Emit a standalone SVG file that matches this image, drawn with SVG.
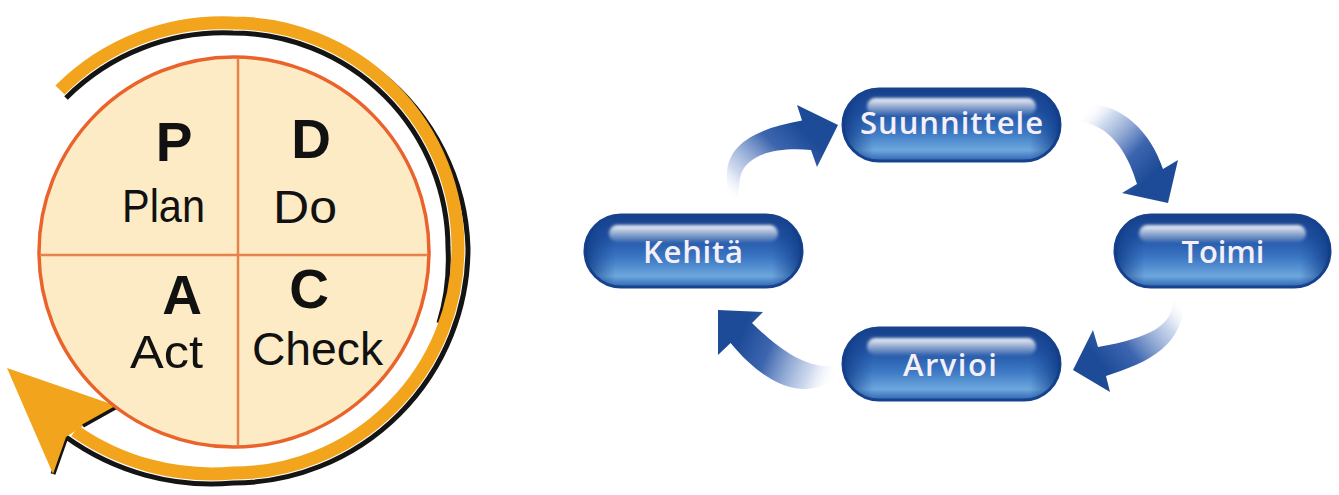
<svg xmlns="http://www.w3.org/2000/svg" width="1339" height="495" viewBox="0 0 1339 495">
<style>
.band{fill:none;stroke:#F2A51C;stroke-width:13}
.blk{fill:none;stroke:#141414;stroke-width:5}
.big{font-family:"Liberation Sans",Arial,sans-serif;font-weight:bold;font-size:55px;fill:#111;text-anchor:middle}
.word{font-family:"Liberation Sans",Arial,sans-serif;font-size:46px;fill:#111}
.pb{fill:url(#pillBody);stroke:#17428c;stroke-width:3}
.pe{fill:url(#pillEdge)}
.pg{fill:url(#pillGloss);filter:url(#soft)}
.pt{font-family:"Open Sans","Liberation Sans",sans-serif;font-weight:600;font-size:31px;fill:#f5eff7;text-anchor:middle}
</style>
<defs>
<filter id="soft" x="-10%" y="-50%" width="120%" height="200%"><feGaussianBlur stdDeviation="1.8"/></filter>
<linearGradient id="pillBody" x1="0" y1="0" x2="0" y2="1">
<stop offset="0" stop-color="#163f8a"/>
<stop offset="0.3" stop-color="#1f52a3"/>
<stop offset="0.6" stop-color="#3c78c4"/>
<stop offset="0.85" stop-color="#6da7dd"/>
<stop offset="1" stop-color="#2d63b0"/>
</linearGradient>
<linearGradient id="pillEdge" x1="0" y1="0" x2="1" y2="0">
<stop offset="0" stop-color="#0f3a85" stop-opacity="0.9"/>
<stop offset="0.14" stop-color="#1a4a98" stop-opacity="0"/>
<stop offset="0.86" stop-color="#1a4a98" stop-opacity="0"/>
<stop offset="1" stop-color="#0f3a85" stop-opacity="0.9"/>
</linearGradient>
<linearGradient id="pillGloss" x1="0" y1="0" x2="0" y2="1">
<stop offset="0" stop-color="#ffffff" stop-opacity="0.95"/>
<stop offset="1" stop-color="#ffffff" stop-opacity="0.1"/>
</linearGradient>
<linearGradient id="a1" gradientUnits="userSpaceOnUse" x1="730" y1="200" x2="800" y2="128">
<stop offset="0" stop-color="#ffffff" stop-opacity="0"/>
<stop offset="0.25" stop-color="#b8c9e6" stop-opacity="0.7"/>
<stop offset="0.7" stop-color="#3d66b0"/>
<stop offset="1" stop-color="#1e4b97"/>
</linearGradient>
<linearGradient id="a2" gradientUnits="userSpaceOnUse" x1="1083" y1="112" x2="1150" y2="176">
<stop offset="0" stop-color="#ffffff" stop-opacity="0"/>
<stop offset="0.25" stop-color="#b8c9e6" stop-opacity="0.7"/>
<stop offset="0.7" stop-color="#3d66b0"/>
<stop offset="1" stop-color="#1e4b97"/>
</linearGradient>
<linearGradient id="a3" gradientUnits="userSpaceOnUse" x1="1178" y1="297" x2="1100" y2="362">
<stop offset="0" stop-color="#ffffff" stop-opacity="0"/>
<stop offset="0.25" stop-color="#b8c9e6" stop-opacity="0.7"/>
<stop offset="0.7" stop-color="#3d66b0"/>
<stop offset="1" stop-color="#1e4b97"/>
</linearGradient>
<linearGradient id="a4" gradientUnits="userSpaceOnUse" x1="838" y1="372" x2="742" y2="333">
<stop offset="0" stop-color="#ffffff" stop-opacity="0"/>
<stop offset="0.25" stop-color="#b8c9e6" stop-opacity="0.7"/>
<stop offset="0.7" stop-color="#3d66b0"/>
<stop offset="1" stop-color="#1e4b97"/>
</linearGradient>
</defs>
<rect width="1339" height="495" fill="#ffffff"/>

<g id="pdca">
<g id="ribbon">
<path class="blk" d="M66,98 A222,222 0 0 1 233,33 A215,215 0 0 1 448,248 A217,217 0 0 1 439,323"/>
<path class="blk" d="M380,73 A232,232 0 0 1 468,248 A235,235 0 0 1 233,483 A248,248 0 0 1 66,437 L53,474"/>
<path class="band" d="M60,90 A229,229 0 0 1 233,23 A225,225 0 0 1 458,248 A225,225 0 0 1 233,473 A240,240 0 0 1 75,431"/>
<polygon points="7,368 117,406 83,426 66,437 53,474" fill="#F2A51C"/>
<path d="M83,426 L117,407" stroke="#141414" stroke-width="3.5" fill="none"/>
</g>
<circle cx="234" cy="252" r="195" fill="#FCEBC5" stroke="#E9632B" stroke-width="3.5"/>
<line x1="238" y1="58" x2="238" y2="446" stroke="#E5834A" stroke-width="2.5"/>
<line x1="40" y1="255" x2="428" y2="255" stroke="#E5834A" stroke-width="2.5"/>
<g id="q-plan"><text class="big" x="174" y="161">P</text><text class="word" x="122" y="222" textLength="83" lengthAdjust="spacingAndGlyphs">Plan</text></g>
<g id="q-do"><text class="big" x="311" y="158">D</text><text class="word" x="273" y="223" textLength="64" lengthAdjust="spacingAndGlyphs">Do</text></g>
<g id="q-act"><text class="big" x="182" y="314">A</text><text class="word" x="130" y="368" textLength="73" lengthAdjust="spacingAndGlyphs">Act</text></g>
<g id="q-check"><text class="big" x="309" y="308">C</text><text class="word" x="252" y="365" textLength="131" lengthAdjust="spacingAndGlyphs">Check</text></g>
</g>

<g id="connectors">
<path fill="url(#a1)" d="M727,202 L727,172 C729,142 760,128 802,120.5 L797,105 L838,125 L817,167 L811,150 C776,147 745,154 740,178 L737,202 Z"/>
<path fill="url(#a2)" d="M1083,104 C1120,102 1150,130 1163,169 L1178,160 L1168,203 L1122,193 L1137,184 C1130,160 1115,128 1083,122 Z"/>
<path fill="url(#a3)" d="M1173,297 C1175,325 1150,338 1098,347 L1093,330 L1073,370 L1110,392 L1106,376 C1150,362 1185,345 1184,297 Z"/>
<path fill="url(#a4)" d="M763,312 L718,310 L718,355 L730.6,343 C765,385 805,402 836,378 L838,366 C805,370 778,348 752,323 Z"/>
</g>

<g id="node-suunnittele" transform="translate(843,89)">
<rect class="pb" width="217" height="72" rx="36"/>
<rect class="pe" width="217" height="72" rx="36"/>
<rect class="pg" x="24" y="9" width="169" height="17" rx="8.5"/>
<text class="pt" x="108.5" y="45" textLength="183" lengthAdjust="spacing">Suunnittele</text>
</g>
<g id="node-toimi" transform="translate(1115,215)">
<rect class="pb" width="215" height="72" rx="36"/>
<rect class="pe" width="215" height="72" rx="36"/>
<rect class="pg" x="24" y="10" width="167" height="17" rx="8.5"/>
<text class="pt" x="108" y="48" textLength="83" lengthAdjust="spacing">Toimi</text>
</g>
<g id="node-arvioi" transform="translate(843,328)">
<rect class="pb" width="217" height="72" rx="36"/>
<rect class="pe" width="217" height="72" rx="36"/>
<rect class="pg" x="24" y="10" width="169" height="17" rx="8.5"/>
<text class="pt" x="107" y="48" textLength="94" lengthAdjust="spacing">Arvioi</text>
</g>
<g id="node-kehita" transform="translate(585,215)">
<rect class="pb" width="217" height="72" rx="36"/>
<rect class="pe" width="217" height="72" rx="36"/>
<rect class="pg" x="24" y="10" width="169" height="17" rx="8.5"/>
<text class="pt" x="108" y="48" textLength="100" lengthAdjust="spacing">Kehitä</text>
</g>
</svg>
